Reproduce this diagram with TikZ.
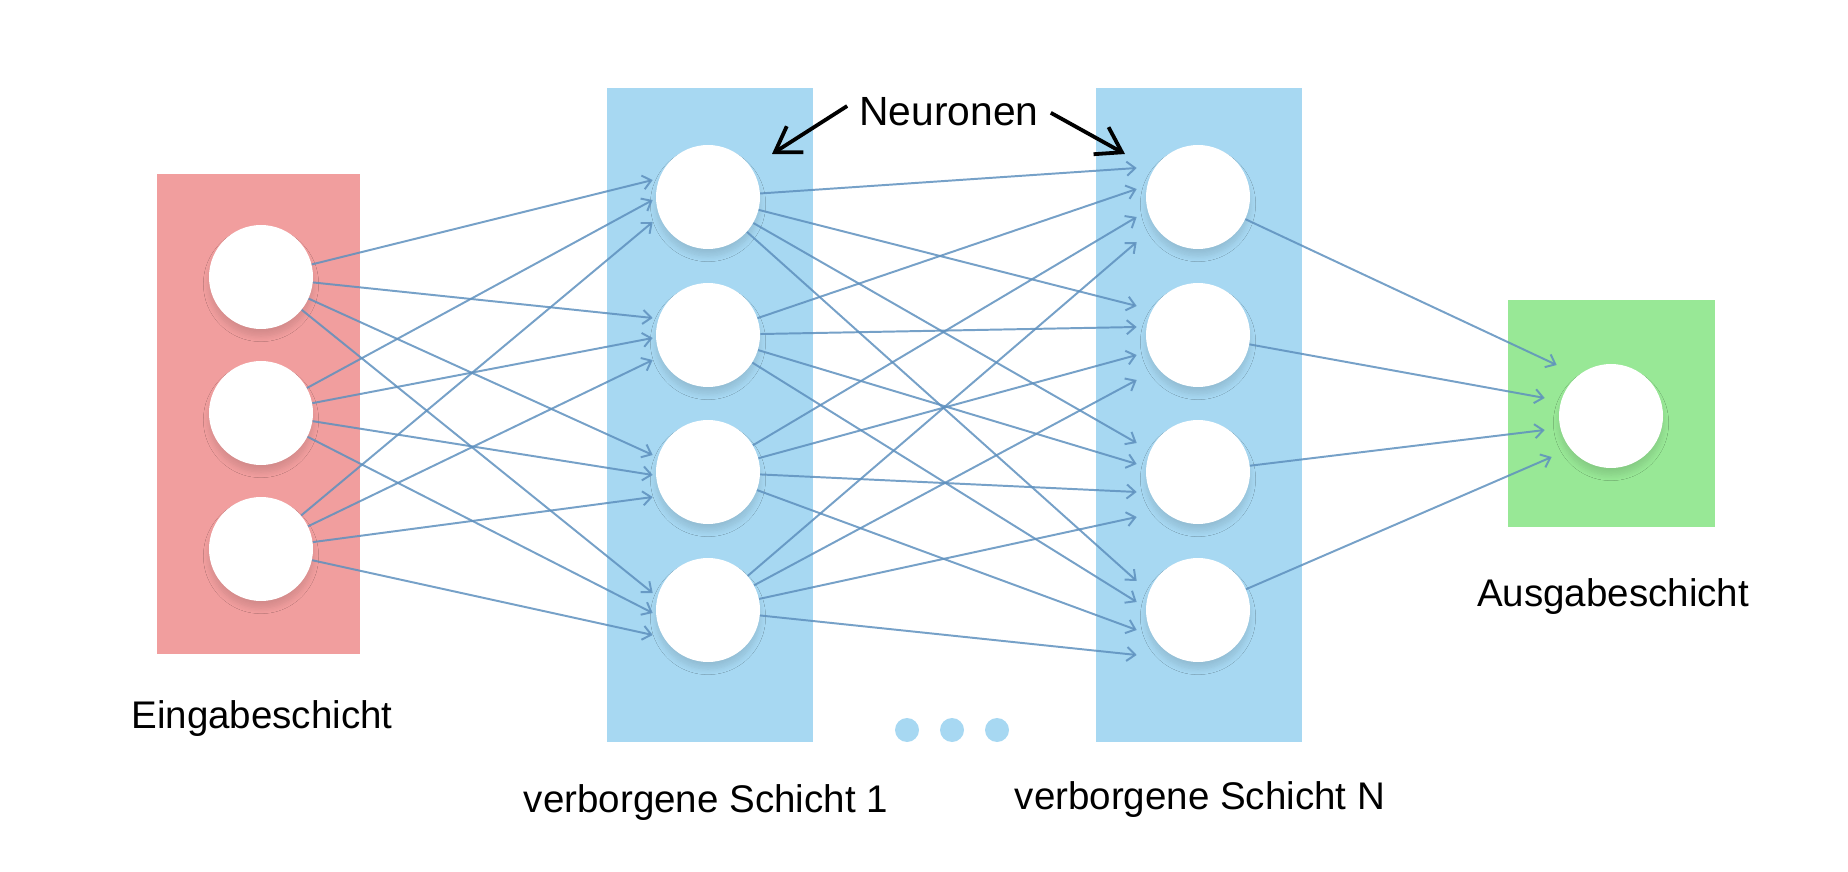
\documentclass[tikz,border=0pt]{standalone}
\usepackage{fontspec}
\setmainfont{Liberation Sans}
\usetikzlibrary{arrows.meta,calc,shadows.blur}

\definecolor{inred}{RGB}{241,158,158}
\definecolor{hidblue}{RGB}{167,216,242}
\definecolor{outgreen}{RGB}{152,232,150}
\definecolor{wireblue}{RGB}{94,144,190}

\begin{document}
\begin{tikzpicture}[
  font=\fontsize{27.4}{33}\selectfont,
  layer/.style={
    rectangle, draw=none, inner sep=0pt,
    minimum width=5.15cm
  },
  neuron/.style={
    circle, fill=white, draw=none,
    minimum size=2.6cm, inner sep=0pt,
    blur shadow={shadow xshift=0pt, shadow yshift=-5pt,
      shadow blur radius=4pt, shadow blur steps=10, shadow opacity=12}
  },
  dot/.style={
    circle, fill=hidblue, draw=none,
    minimum size=0.6cm, inner sep=0pt
  },
  wire/.style={-{Straight Barb[length=6pt,width=10pt]}, line width=1.4pt, wireblue, opacity=0.85},
  callout/.style={-{Straight Barb[length=17pt,width=22pt]}, line width=2.7pt, black},
  lbl/.style={inner sep=0pt, black}
]

\useasboundingbox (0,0) rectangle (46.2,-21.8);

%% ── Layer backgrounds ────────────────────────────────────────────────
\node[layer, fill=inred, minimum width=5.08cm, minimum height=12.0cm] (lin) at (6.46,-10.35) {};
\node[layer, fill=hidblue, minimum height=16.35cm] (lh1) at (17.75,-10.375) {};
\node[layer, fill=hidblue, minimum height=16.35cm] (lhn) at (29.975,-10.375) {};
\node[layer, fill=outgreen, minimum width=5.175cm, minimum height=5.675cm] (lout) at (40.29,-10.34) {};

%% ── Neurons ─────────────────────────────────────────────────────────
\node[neuron] (in1) at (6.525,-6.925) {};
\node[neuron] (in2) at (6.525,-10.325) {};
\node[neuron] (in3) at (6.525,-13.725) {};

\node[neuron] (ha1) at (17.70,-4.925) {};
\node[neuron] (ha2) at (17.70,-8.375) {};
\node[neuron] (ha3) at (17.70,-11.80) {};
\node[neuron] (ha4) at (17.70,-15.25) {};

\node[neuron] (hn1) at (29.95,-4.925) {};
\node[neuron] (hn2) at (29.95,-8.375) {};
\node[neuron] (hn3) at (29.95,-11.80) {};
\node[neuron] (hn4) at (29.95,-15.25) {};

\node[neuron] (out) at (40.275,-10.40) {};

%% ── Input -> hidden layer 1 ─────────────────────────────────────────
\draw[wire] (in1) -- ([shift={(-0.075, 0.425)}]ha1.west);
\draw[wire] (in2) -- ([shift={(-0.075,-0.075)}]ha1.west);
\draw[wire] (in3) -- ([shift={(-0.075,-0.625)}]ha1.west);

\draw[wire] (in1) -- ([shift={(-0.075, 0.425)}]ha2.west);
\draw[wire] (in2) -- ([shift={(-0.075,-0.075)}]ha2.west);
\draw[wire] (in3) -- ([shift={(-0.075,-0.625)}]ha2.west);

\draw[wire] (in1) -- ([shift={(-0.075, 0.425)}]ha3.west);
\draw[wire] (in2) -- ([shift={(-0.075,-0.075)}]ha3.west);
\draw[wire] (in3) -- ([shift={(-0.075,-0.625)}]ha3.west);

\draw[wire] (in1) -- ([shift={(-0.075, 0.425)}]ha4.west);
\draw[wire] (in2) -- ([shift={(-0.075,-0.075)}]ha4.west);
\draw[wire] (in3) -- ([shift={(-0.075,-0.625)}]ha4.west);

%% ── Hidden layer 1 -> hidden layer N ────────────────────────────────
\draw[wire] (ha1) -- ([shift={(-0.225, 0.725)}]hn1.west);
\draw[wire] (ha2) -- ([shift={(-0.225, 0.200)}]hn1.west);
\draw[wire] (ha3) -- ([shift={(-0.225,-0.500)}]hn1.west);
\draw[wire] (ha4) -- ([shift={(-0.225,-1.125)}]hn1.west);

\draw[wire] (ha1) -- ([shift={(-0.225, 0.725)}]hn2.west);
\draw[wire] (ha2) -- ([shift={(-0.225, 0.200)}]hn2.west);
\draw[wire] (ha3) -- ([shift={(-0.225,-0.500)}]hn2.west);
\draw[wire] (ha4) -- ([shift={(-0.225,-1.125)}]hn2.west);

\draw[wire] (ha1) -- ([shift={(-0.225, 0.725)}]hn3.west);
\draw[wire] (ha2) -- ([shift={(-0.225, 0.200)}]hn3.west);
\draw[wire] (ha3) -- ([shift={(-0.225,-0.500)}]hn3.west);
\draw[wire] (ha4) -- ([shift={(-0.225,-1.125)}]hn3.west);

\draw[wire] (ha1) -- ([shift={(-0.225, 0.725)}]hn4.west);
\draw[wire] (ha2) -- ([shift={(-0.225, 0.200)}]hn4.west);
\draw[wire] (ha3) -- ([shift={(-0.225,-0.500)}]hn4.west);
\draw[wire] (ha4) -- ([shift={(-0.225,-1.125)}]hn4.west);

%% ── Hidden layer N -> output ────────────────────────────────────────
\draw[wire] (hn1) -- ([shift={(-0.050, 1.275)}]out.west);
\draw[wire] (hn2) -- ([shift={(-0.350, 0.450)}]out.west);
\draw[wire] (hn3) -- ([shift={(-0.350,-0.350)}]out.west);
\draw[wire] (hn4) -- ([shift={(-0.175,-1.025)}]out.west);

%% ── Dots between hidden layers ──────────────────────────────────────
\node[dot] (dt1) at (22.675,-18.25) {};
\node[dot] (dt2) at (23.80,-18.25) {};
\node[dot] (dt3) at (24.925,-18.25) {};

%% ── Labels ──────────────────────────────────────────────────────────
\node[lbl] (tin)  at (6.55,-17.975)  {Eingabeschicht};
\node[lbl] (th1)  at (17.65,-20.075) {verborgene Schicht 1};
\node[lbl] (thn)  at (30.00,-20.00)  {verborgene Schicht N};
\node[lbl] (tout) at (40.325,-14.925) {Ausgabeschicht};

%% ── Neuronen callout ────────────────────────────────────────────────
\node[lbl, font=\fontsize{29}{35}\selectfont] (neur) at (23.725,-2.80) {Neuronen};
\coordinate (ntipa) at (19.30,-3.85);
\coordinate (ntipb) at (28.125,-3.85);
\draw[callout] ([shift={(-0.30, 0.15)}]neur.west) -- (ntipa);
\draw[callout] ([shift={( 0.30,-0.02)}]neur.east) -- (ntipb);

\end{tikzpicture}
\end{document}
